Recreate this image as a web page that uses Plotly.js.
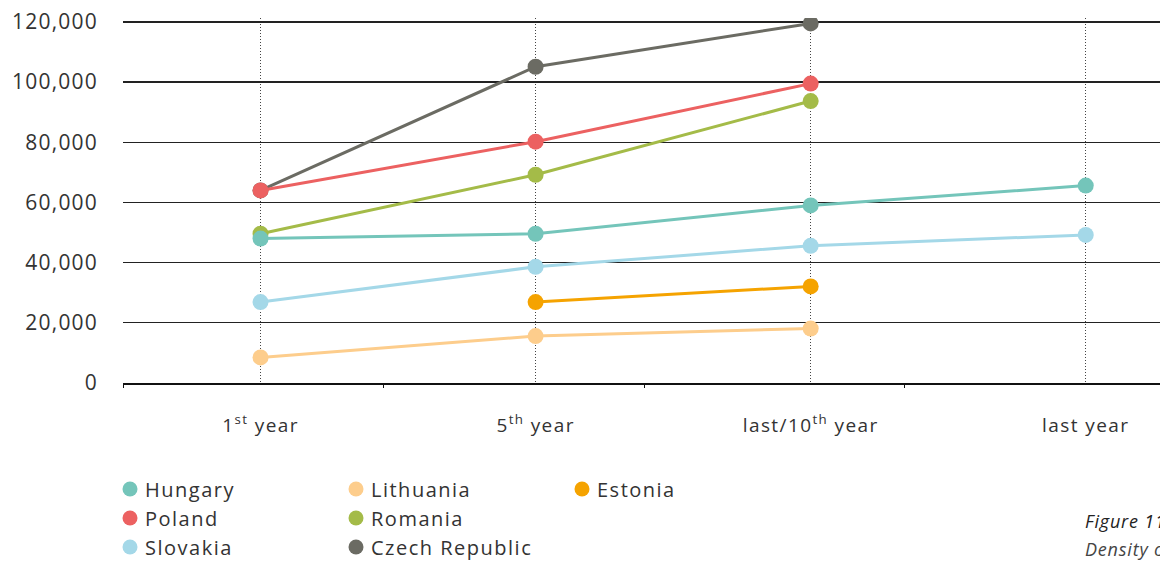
<!DOCTYPE html>
<html>
<head>
<meta charset="utf-8">
<script src="https://cdn.plot.ly/plotly-3.0.1.min.js"></script>
<style>
html,body{margin:0;padding:0;background:#fff;}
#chart{width:1160px;height:561px;}
.ytick text{letter-spacing:1.2px;}
.xtick text{letter-spacing:1.4px;}
.annotation-text{letter-spacing:0.8px;}
</style>
</head>
<body>
<div id="chart"></div>
<script>
// Categories (x positions 0..3) and tick labels
const categories = [0, 1, 2, 3];
const tickLabels = ["1<sup>st</sup> year", "5<sup>th</sup> year", "last/10<sup>th</sup> year", "last year"];

// Series values (null = no value)
const hungary   = [48000, 49600, 59000, 65600];
const lithuania = [8500, 15600, 18100, null];
const estonia   = [null, 26900, 32100, null];
const poland    = [64000, 80200, 99500, null];
const romania   = [49600, 69200, 93700, null];
const slovakia  = [26900, 38600, 45600, 49200];
const czech     = [64000, 105100, 119500, null];

const yTicks = [0, 20000, 40000, 60000, 80000, 100000, 120000];
const yTickLabels = ["0", "20,000", "40,000", "60,000", "80,000", "100,000", "120,000"];

const colors = {
  Hungary: "#74C5BA", Lithuania: "#FDCD8C", Estonia: "#F5A300",
  Poland: "#EC6161", Romania: "#A4BB48", Slovakia: "#A4D8E8", "Czech Republic": "#6B6B63"
};

const FONT = "Open Sans, sans-serif";

function line(name, ys) {
  const xs = [], vs = [];
  ys.forEach((v, i) => { if (v !== null) { xs.push(categories[i]); vs.push(v); } });
  return {
    type: "scatter", mode: "lines+markers", x: xs, y: vs, name: name,
    line: {color: colors[name], width: 3},
    marker: {color: colors[name], size: 16},
    showlegend: false, hoverinfo: "x+y+name"
  };
}
function legendItem(name, legend) {
  return {
    type: "scatter", mode: "markers", x: [null], y: [null], name: name,
    marker: {color: colors[name], size: 15}, legend: legend, showlegend: true
  };
}

const traces = [
  line("Czech Republic", czech),
  line("Romania", romania),
  line("Slovakia", slovakia),
  line("Estonia", estonia),
  line("Lithuania", lithuania),
  line("Hungary", hungary),
  line("Poland", poland),
  legendItem("Hungary", "legend"),
  legendItem("Poland", "legend"),
  legendItem("Slovakia", "legend"),
  legendItem("Lithuania", "legend2"),
  legendItem("Romania", "legend2"),
  legendItem("Czech Republic", "legend2"),
  legendItem("Estonia", "legend3"),
  // invisible trace carrying the boundary tick marks
  {type: "scatter", mode: "markers", x: [null], y: [null], xaxis: "x2", showlegend: false, hoverinfo: "skip"}
];

const legendBase = {
  orientation: "v", xanchor: "left", yanchor: "top",
  xref: "container", yref: "container", y: 0.163,
  font: {family: FONT, size: 20, color: "#333"}, bgcolor: "rgba(0,0,0,0)",
  traceorder: "normal", itemclick: false
};

const layout = {
  width: 1160, height: 561,
  margin: {l: 123, r: 0, t: 18, b: 178, autoexpand: false},
  paper_bgcolor: "#fff", plot_bgcolor: "#fff",
  font: {family: FONT, color: "#333"},
  showlegend: true,
  xaxis: {
    range: [-0.5, 3.27], tickvals: categories, ticktext: tickLabels,
    showgrid: true, gridcolor: "#444", gridwidth: 1, griddash: "1px,2px",
    zeroline: false, showline: true, linecolor: "#111", linewidth: 1.5,
    ticks: "", tickfont: {family: FONT, size: 19, color: "#333"},
    ticklabelstandoff: 25, fixedrange: true, automargin: false
  },
  xaxis2: {
    overlaying: "x", anchor: "y", side: "bottom", range: [0, 3.98],
    tickvals: [0, 1, 2, 3], ticks: "outside", ticklen: 4, tickcolor: "#111", tickwidth: 1,
    showticklabels: false, showgrid: false, zeroline: false, showline: false
  },
  yaxis: {
    range: [0, 121300], tickvals: yTicks, ticktext: yTickLabels,
    showgrid: true, gridcolor: "#222", gridwidth: 1.3,
    zeroline: false, showline: false, ticks: "",
    tickfont: {family: FONT, size: 21, color: "#333"},
    ticklabelstandoff: 24, fixedrange: true, automargin: false
  },
  legend: Object.assign({}, legendBase, {x: 110 / 1160}),
  legend2: Object.assign({}, legendBase, {x: 336 / 1160}),
  legend3: Object.assign({}, legendBase, {x: 562 / 1160}),
  annotations: [
    {xref: "paper", yref: "paper", x: 0.926, y: -0.377, xanchor: "left", yanchor: "middle",
     text: "<i>Figure 11</i>", showarrow: false, font: {family: FONT, size: 18, color: "#222"}},
    {xref: "paper", yref: "paper", x: 0.926, y: -0.454, xanchor: "left", yanchor: "middle",
     text: "<i>Density of</i>", showarrow: false, font: {family: FONT, size: 18, color: "#444"}}
  ]
};

function styleLegends() {
  // widen legend lettering to resemble the reference typeface and pull text closer to its dot
  document.querySelectorAll('#chart .infolayer [class*="legend"] text').forEach(function (t) {
    t.style.letterSpacing = "1.5px";
    t.setAttribute("x", "35");
  });
  document.querySelectorAll('#chart .infolayer [class*="legend"] [clip-path]').forEach(function (g) {
    g.removeAttribute("clip-path");
  });
}

const gd = document.getElementById("chart");
Plotly.newPlot(gd, traces, layout, {displayModeBar: false, staticPlot: true}).then(function () {
  styleLegends();
  gd.on("plotly_afterplot", styleLegends);
  setTimeout(styleLegends, 50);
  setTimeout(styleLegends, 300);
});
</script>
</body>
</html>
